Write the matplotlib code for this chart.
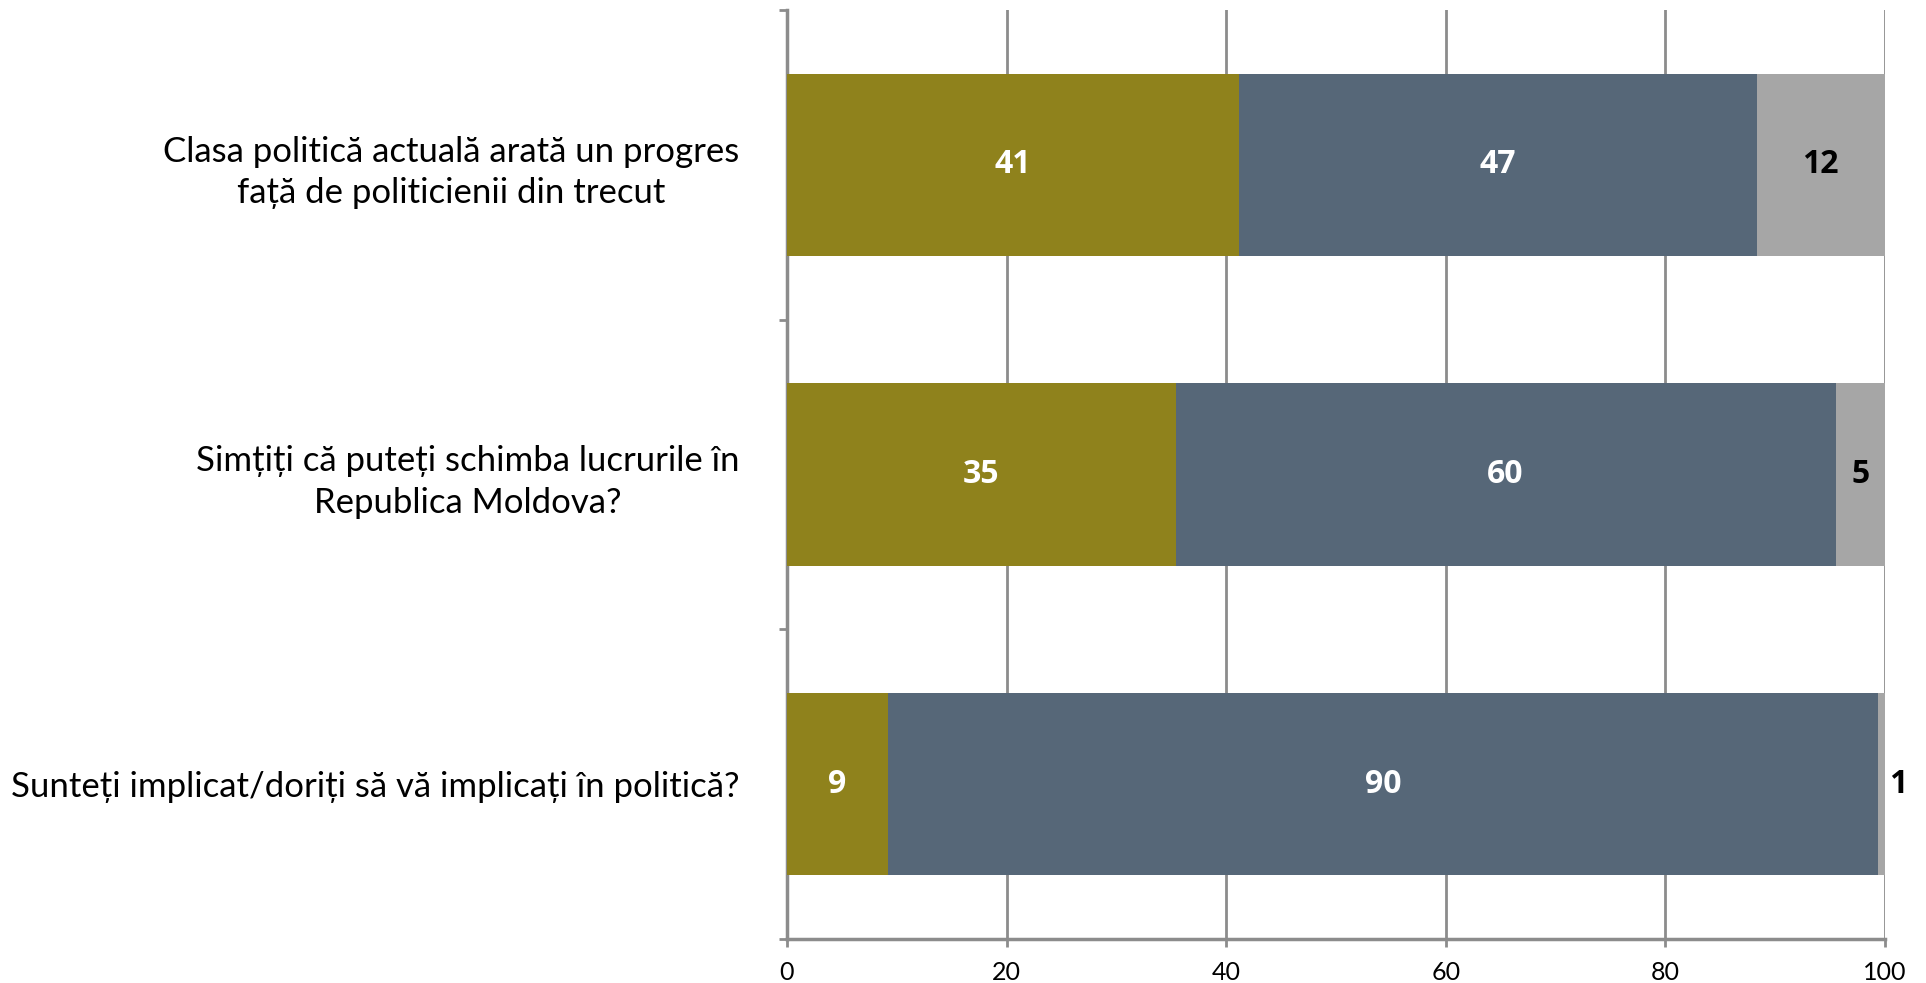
import matplotlib
matplotlib.use("Agg")
import matplotlib.pyplot as plt
import numpy as np

categories = [
    "Clasa politică actuală arată un progres\nfață de politicienii din trecut",
    "Simțiți că puteți schimba lucrurile în\nRepublica Moldova?",
    "Sunteți implicat/doriți să vă implicați în politică?",
]
da = [41.2, 35.4, 9.2]
nu = [47.1, 60.1, 90.2]
nsnr = [11.7, 4.5, 0.6]
da_labels = ["41", "35", "9"]
nu_labels = ["47", "60", "90"]
nsnr_labels = ["12", "5", "1"]
xticks = [0, 20, 40, 60, 80, 100]

colors = ["#8F821C", "#566778", "#A6A6A6"]
label_colors = ["white", "white", "black"]

plt.rcParams['font.family'] = ['Lato', 'DejaVu Sans']

fig = plt.figure(figsize=(19.26, 9.83), dpi=100)
ax = fig.add_axes([0.4086, 0.0448, 0.5701, 0.945])

y = np.arange(len(categories))
series = [da, nu, nsnr]
labels = [da_labels, nu_labels, nsnr_labels]
left = np.zeros(len(categories))
for s_i, (vals, c) in enumerate(zip(series, colors)):
    vals = np.array(vals)
    ax.barh(y, vals, left=left, height=0.59, color=c, zorder=3)
    for i, v in enumerate(vals):
        txt = labels[s_i][i]
        if s_i == 2 and v < 2:
            xpos = left[i] + v + 0.4
            ha = "left"
        else:
            xpos = left[i] + v / 2
            ha = "center"
        ax.text(xpos, y[i], txt, ha=ha, va="center", color=label_colors[s_i],
                fontsize=23, fontweight="bold", family=["Open Sans", "DejaVu Sans"],
                zorder=4, clip_on=False)
    left = left + vals

ax.set_xlim(0, 100)
ax.set_ylim(len(categories) - 0.5, -0.5)
ax.set_xticks(xticks)
ax.set_xticklabels([str(t) for t in xticks], fontsize=18)
ax.xaxis.grid(True, color="#8C8C8C", linewidth=2, zorder=0)
ax.set_axisbelow(True)

ax.set_yticks(y)
ax.set_yticklabels(categories, fontsize=25, multialignment="center", linespacing=1.35)
ax.tick_params(axis="y", which="major", length=0, pad=34)
ax.set_yticks(np.arange(-0.5, len(categories), 1.0), minor=True)
ax.tick_params(axis="y", which="minor", length=6, width=2, color="#8C8C8C")
ax.tick_params(axis="x", length=6, width=2, color="#8C8C8C", pad=10)

for side in ["top", "right"]:
    ax.spines[side].set_visible(False)
for side in ["left", "bottom"]:
    ax.spines[side].set_color("#8C8C8C")
    ax.spines[side].set_linewidth(2.5)

fig.savefig("out.png", dpi=100)
